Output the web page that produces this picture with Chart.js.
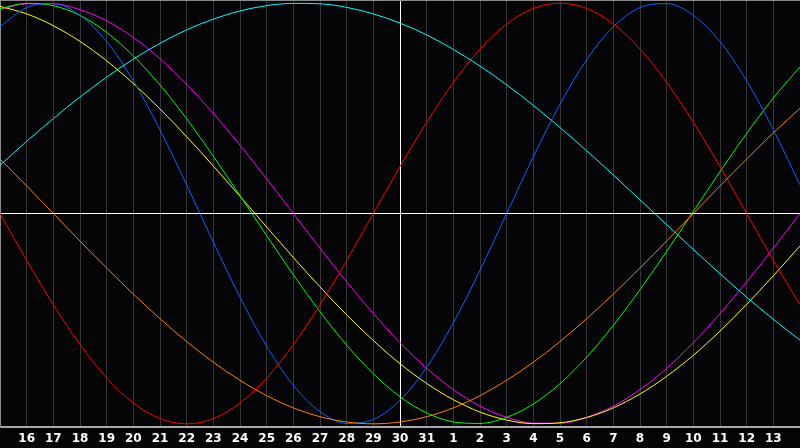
<!DOCTYPE html>
<html>
<head>
<meta charset="utf-8">
<script src="https://cdn.jsdelivr.net/npm/chart.js@4"></script>
<style>
  html, body { margin: 0; padding: 0; background: #050508; }
  canvas { display: block; }
</style>
</head>
<body>
<canvas id="bio" width="800" height="448"></canvas>
<script>
// jours affiches (du 15 au 14 du mois suivant)
const jours = ["15", "16", "17", "18", "19", "20", "21", "22", "23", "24", "25", "26", "27", "28", "29",
  "30", "31", "1", "2", "3", "4", "5", "6", "7", "8", "9", "10", "11", "12", "13", "14"];

// valeurs, en % (-100 .. 100)
const rouge = [0, -22.3, -43.4, -62.3, -78.2, -90.1, -97.5, -100, -97.5, -90.1, -78.2, -62.3, -43.4, -22.3, 0, 22.3,
  43.4, 62.3, 78.2, 90.1, 97.5, 100, 97.5, 90.1, 78.2, 62.3, 43.4, 22.3, 0, -22.3, -43.4];
const bleu = [88.8, 97.9, 99.8, 94.2, 81.7, 63.1, 39.8, 13.6, -13.6, -39.8, -63.1, -81.7, -94.2, -99.8, -97.9, -88.8,
  -73.1, -52.0, -27.0, 0, 27.0, 52.0, 73.1, 88.8, 97.9, 99.8, 94.2, 81.7, 63.1, 39.8, 13.6];
const vert = [97.4, 99.9, 98.8, 94.2, 86.1, 74.9, 61.1, 45.0, 27.2, 8.5, -10.5, -29.1, -46.7, -62.6, -76.2, -87.1,
  -94.8, -99.1, -99.8, -96.9, -90.6, -80.9, -68.3, -53.2, -36.2, -18.0, 1.0, 19.9, 38.1, 54.9, 69.7];
const jaune = [98.5, 94.9, 89.3, 81.8, 72.6, 61.8, 49.7, 36.5, 22.6, 8.2, -6.4, -20.9, -34.9, -48.2, -60.4, -71.4,
  -80.8, -88.5, -94.4, -98.2, -99.9, -99.5, -97.0, -92.4, -85.8, -77.4, -67.4, -55.9, -43.2, -29.6, -15.4];
const magenta = [96.9, 99.7, 99.7, 96.9, 91.6, 83.7, 73.6, 61.4, 47.6, 32.5, 16.5, 0, -16.5, -32.5, -47.6, -61.4,
  -73.6, -83.7, -91.6, -96.9, -99.7, -99.7, -96.9, -91.6, -83.7, -73.6, -61.4, -47.6, -32.5, -16.5, 0];
const orange = [25.9, 13.1, 0, -13.1, -25.9, -38.3, -50, -60.9, -70.7, -79.3, -86.6, -92.4, -96.6, -99.1, -100, -99.1,
  -96.6, -92.4, -86.6, -79.3, -70.7, -60.9, -50, -38.3, -25.9, -13.1, 0, 13.1, 25.9, 38.3, 50];
const cyan = [22.9, 34.3, 45.1, 55.4, 64.8, 73.4, 80.9, 87.3, 92.4, 96.3, 98.8, 99.9, 99.7, 98.0, 94.9, 90.5,
  84.9, 78.0, 70.1, 61.2, 51.4, 40.9, 29.8, 18.3, 6.5, -5.3, -17.1, -28.6, -39.8, -50.3, -60.2];

const aujourdhui = 15; // index du jour courant (ligne blanche)

function serie(data, couleur) {
  return {
    data: data, borderColor: couleur, borderWidth: 1,
    pointRadius: 0, pointHoverRadius: 0, cubicInterpolationMode: "monotone", fill: false,
  };
}

// cadre gris en haut
const cadre = {
  id: "cadre",
  afterDraw(chart) {
    const a = chart.chartArea;
    const c = chart.ctx;
    c.save();
    c.strokeStyle = "#8a8a8a";
    c.lineWidth = 1;
    c.beginPath();
    c.moveTo(a.left, a.top + 0.5);
    c.lineTo(a.right, a.top + 0.5);
    c.stroke();
    c.restore();
  }
};

new Chart(document.getElementById("bio"), {
  type: "line",
  data: {
    labels: jours,
    datasets: [
      serie(orange, "#ff8000"),
      serie(cyan, "#00ffff"),
      serie(rouge, "#ff0000"),
      serie(bleu, "#0a64ff"),
      serie(vert, "#00ff00"),
      serie(jaune, "#ffff00"),
      serie(magenta, "#ff00ff"),
    ],
  },
  plugins: [cadre],
  options: {
    responsive: false,
    animation: false,
    layout: { padding: 0, autoPadding: false },
    plugins: { legend: { display: false }, tooltip: { enabled: false } },
    scales: {
      x: {
        offset: false,
        afterFit: (s) => { s.height = 21; s.paddingLeft = 0; s.paddingRight = 0; },
        grid: {
          color: (ctx) => (ctx.index === aujourdhui ? "#ffffff" : "#353535"),
          lineWidth: 1,
          drawTicks: false,
        },
        border: { color: "#a8a8a8", width: 2 },
        ticks: {
          autoSkip: false,
          maxRotation: 0,
          padding: 5,
          color: "#ffffff",
          font: { family: "DejaVu Sans", size: 12, weight: "bold" },
          callback: (v, i) => (i === 0 || i === jours.length - 1 ? "" : jours[i]),
        },
      },
      y: {
        min: -101.5,
        max: 101.5,
        afterFit: (s) => { s.width = 0; },
        ticks: { display: false, stepSize: 50 },
        grid: {
          color: (ctx) => (ctx.tick && ctx.tick.value === 0 ? "#ffffff" : "rgba(0,0,0,0)"),
          drawTicks: false,
        },
        border: { color: "#8a8a8a", width: 2 },
      },
    },
  },
});
</script>
</body>
</html>
